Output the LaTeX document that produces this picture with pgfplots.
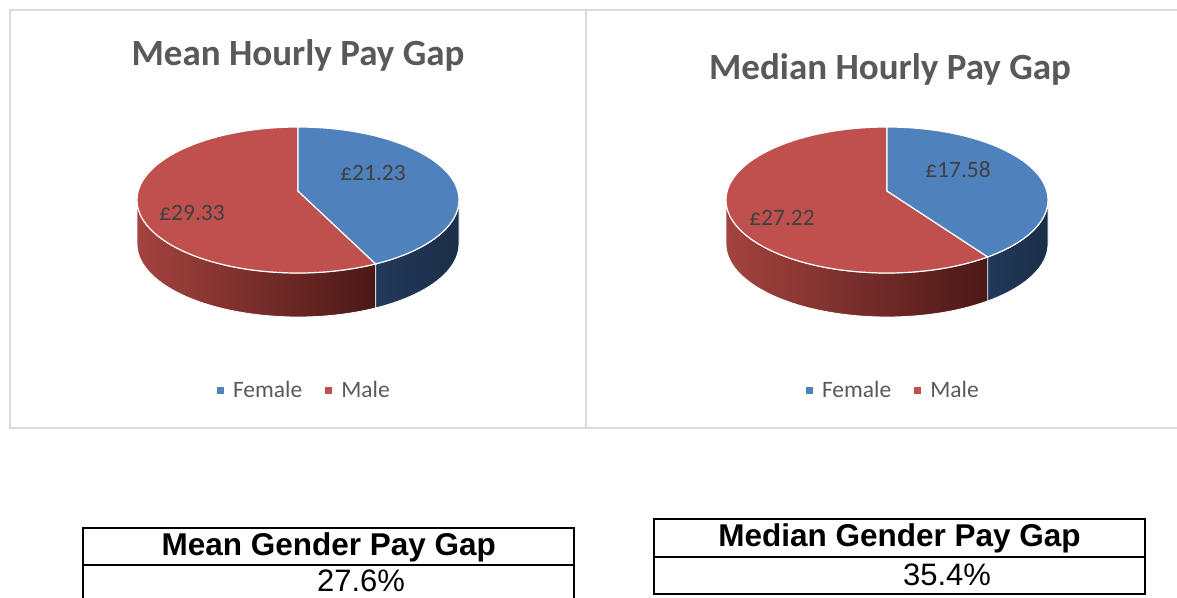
\documentclass[border=0pt]{standalone}
\usepackage{pgfplots}
\pgfplotsset{compat=1.18}
\usepackage{fontspec}
\setmainfont{Carlito}
\newfontfamily\arialfont{Liberation Sans}
\definecolor{femblue}{HTML}{4F81BD}
\definecolor{malered}{HTML}{C0504D}
\definecolor{femsideL}{HTML}{22395A}
\definecolor{femsideR}{HTML}{1B2E48}
\definecolor{malesideL}{HTML}{A4433F}
\definecolor{malesideR}{HTML}{4B1816}
\definecolor{titlegray}{HTML}{595959}
\definecolor{labelgray}{HTML}{404040}
\definecolor{panelborder}{HTML}{D9D9D9}

% data
\def\meanF{21.23}
\def\meanM{29.33}
\def\medF{17.58}
\def\medM{27.22}

\begin{document}
\begin{tikzpicture}
% geometry (1 axis unit = 1pt, y upwards)
\def\rx{161}\def\ry{73}\def\dep{44}
% left pie, ellipse centre (298,397), apex (298,406)
\pgfmathsetmacro\angA{90-360*\meanF/(\meanF+\meanM)}
\pgfmathsetmacro\endA{360+\angA}
\pgfmathsetmacro\bxA{298+\rx*cos(\angA)}
\pgfmathsetmacro\byA{397+\ry*sin(\angA)}
\pgfmathsetmacro\byAb{\byA-\dep}
% right pie, ellipse centre (887,397), apex (887,406)
\pgfmathsetmacro\angB{90-360*\medF/(\medF+\medM)}
\pgfmathsetmacro\endB{360+\angB}
\pgfmathsetmacro\bxB{887+\rx*cos(\angB)}
\pgfmathsetmacro\byB{397+\ry*sin(\angB)}
\pgfmathsetmacro\byBb{\byB-\dep}

% ---------- left panel ----------
\begin{axis}[
  hide axis, scale only axis, clip=false,
  at={(10pt,169pt)}, anchor=south west,
  width=576pt, height=418pt,
  xmin=10, xmax=586, ymin=169, ymax=587,
  legend columns=2,
  legend style={draw=none, fill=none, inner sep=0pt, outer sep=0pt,
    at={(0.3594,0.0909)}, anchor=west,
    font=\fontsize{23.5}{28}\selectfont, text=titlegray,
    nodes={inner sep=0pt}},
  /tikz/every odd column/.append style={column sep=9pt},
  /tikz/every even column/.append style={column sep=23pt},
  legend image code/.code={\fill[#1] (0pt,-3.5pt) rectangle (7pt,3.5pt);},
]
\addlegendimage{fill=femblue, draw=none}
\addlegendentry{Female}
\addlegendimage{fill=malered, draw=none}
\addlegendentry{Male}

\draw[panelborder, line width=1.5pt] (axis cs:10,169) rectangle (axis cs:586,587);

% sides
\path[left color=malesideL, right color=malesideR, draw=white, line width=0.8pt]
  (axis cs:137,397)
  arc[start angle=180, end angle=\endA, x radius=161pt, y radius=73pt]
  -- (axis cs:\bxA,\byAb)
  arc[start angle=\endA, end angle=180, x radius=161pt, y radius=73pt] -- cycle;
\path[left color=femsideL, right color=femsideR, draw=white, line width=0.8pt]
  (axis cs:\bxA,\byA)
  arc[start angle=\endA, end angle=360, x radius=161pt, y radius=73pt]
  -- (axis cs:459,353)
  arc[start angle=360, end angle=\endA, x radius=161pt, y radius=73pt] -- cycle;
% top
\path[fill=malered, draw=white, line width=1.2pt]
  (axis cs:298,406) -- (axis cs:298,470)
  arc[start angle=90, end angle=\endA, x radius=161pt, y radius=73pt] -- cycle;
\path[fill=femblue, draw=white, line width=1.2pt]
  (axis cs:298,406) -- (axis cs:298,470)
  arc[start angle=90, end angle=\angA, x radius=161pt, y radius=73pt] -- cycle;

\node[text=labelgray, font=\fontsize{23.5}{28}\selectfont] at (axis cs:373,424) {£21.23};
\node[text=labelgray, font=\fontsize{23.5}{28}\selectfont] at (axis cs:192,384) {£29.33};
\node[anchor=base, text=titlegray, font=\bfseries\fontsize{37}{44}\selectfont] at (axis cs:298,531) {Mean Hourly Pay Gap};
\end{axis}

% ---------- right panel ----------
\begin{axis}[
  hide axis, scale only axis, clip=false,
  at={(586pt,169pt)}, anchor=south west,
  width=591pt, height=418pt,
  xmin=586, xmax=1177, ymin=169, ymax=587,
  legend columns=2,
  legend style={draw=none, fill=none, inner sep=0pt, outer sep=0pt,
    at={(0.3723,0.0909)}, anchor=west,
    font=\fontsize{23.5}{28}\selectfont, text=titlegray,
    nodes={inner sep=0pt}},
  /tikz/every odd column/.append style={column sep=9pt},
  /tikz/every even column/.append style={column sep=23pt},
  legend image code/.code={\fill[#1] (0pt,-3.5pt) rectangle (7pt,3.5pt);},
]
\addlegendimage{fill=femblue, draw=none}
\addlegendentry{Female}
\addlegendimage{fill=malered, draw=none}
\addlegendentry{Male}

\draw[panelborder, line width=1.5pt] (axis cs:586,169) rectangle (axis cs:1200,587);

\path[left color=malesideL, right color=malesideR, draw=white, line width=0.8pt]
  (axis cs:726,397)
  arc[start angle=180, end angle=\endB, x radius=161pt, y radius=73pt]
  -- (axis cs:\bxB,\byBb)
  arc[start angle=\endB, end angle=180, x radius=161pt, y radius=73pt] -- cycle;
\path[left color=femsideL, right color=femsideR, draw=white, line width=0.8pt]
  (axis cs:\bxB,\byB)
  arc[start angle=\endB, end angle=360, x radius=161pt, y radius=73pt]
  -- (axis cs:1048,353)
  arc[start angle=360, end angle=\endB, x radius=161pt, y radius=73pt] -- cycle;
\path[fill=malered, draw=white, line width=1.2pt]
  (axis cs:887,406) -- (axis cs:887,470)
  arc[start angle=90, end angle=\endB, x radius=161pt, y radius=73pt] -- cycle;
\path[fill=femblue, draw=white, line width=1.2pt]
  (axis cs:887,406) -- (axis cs:887,470)
  arc[start angle=90, end angle=\angB, x radius=161pt, y radius=73pt] -- cycle;

\node[text=labelgray, font=\fontsize{23.5}{28}\selectfont] at (axis cs:958,427) {£17.58};
\node[text=labelgray, font=\fontsize{23.5}{28}\selectfont] at (axis cs:782,379) {£27.22};
\node[anchor=base, text=titlegray, font=\bfseries\fontsize{37}{44}\selectfont] at (axis cs:890,517) {Median Hourly Pay Gap};
\end{axis}

% ---------- tables ----------
\draw[line width=2pt] (83.3pt,69.3pt) rectangle (574.3pt,-10pt);
\draw[line width=2pt] (83.3pt,32pt) -- (574.3pt,32pt);
\node[anchor=base, inner sep=0pt, font=\arialfont\bfseries\fontsize{31.5}{36}\selectfont] at (328.8pt,42pt) {Mean Gender Pay Gap};
\node[anchor=base, inner sep=0pt, font=\arialfont\fontsize{31}{36}\selectfont] at (361pt,5.5pt) {27.6\%};

\draw[line width=2pt] (654pt,78pt) rectangle (1145pt,2.7pt);
\draw[line width=2pt] (654pt,40.3pt) -- (1145pt,40.3pt);
\node[anchor=base, inner sep=0pt, font=\arialfont\bfseries\fontsize{31.5}{36}\selectfont] at (899.5pt,50.7pt) {Median Gender Pay Gap};
\node[anchor=base, inner sep=0pt, font=\arialfont\fontsize{31}{36}\selectfont] at (947pt,11.4pt) {35.4\%};

\pgfresetboundingbox
\path[use as bounding box] (0pt,0pt) rectangle (1177pt,597pt);
\end{tikzpicture}
\end{document}
